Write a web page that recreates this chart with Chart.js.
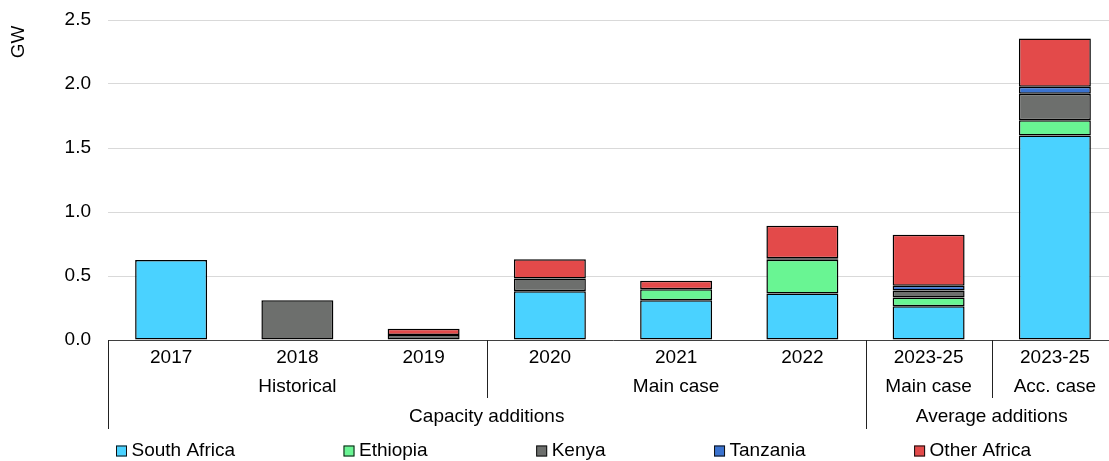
<!DOCTYPE html>
<html>
<head>
<meta charset="utf-8">
<script src="https://cdn.jsdelivr.net/npm/chart.js@4/dist/chart.umd.min.js"></script>
<style>
  body { margin: 0; background: #fff; }
  #wrap { width: 1109px; height: 461px; overflow: hidden; }
</style>
</head>
<body>
<div id="wrap"><canvas id="chart" width="1118" height="461" style="width:1118px;height:461px"></canvas></div>
<script>
// categories and axis groups
const years = ["2017", "2018", "2019", "2020", "2021", "2022", "2023-25", "2023-25"]
const periodGroups = ["Historical", "Main case", "Main case", "Acc. case"]
const periodSpans = [3, 3, 1, 1]
const additionGroups = ["Capacity additions", "Average additions"]
const additionSpans = [6, 2]

// GW per region
const southAfrica = [0.625, 0, 0, 0.38, 0.31, 0.363, 0.264, 1.598]
const ethiopia = [0, 0, 0, 0, 0.087, 0.264, 0.068, 0.119]
const kenya = [0, 0.31, 0.04, 0.10, 0, 0.012, 0.055, 0.206]
const tanzania = [0, 0, 0, 0, 0, 0, 0.036, 0.055]
const otherAfrica = [0, 0, 0.047, 0.15, 0.066, 0.253, 0.399, 0.377]

const yTicks = [0, 0.5, 1.0, 1.5, 2.0, 2.5]

const fontFamily = "'Liberation Sans', Arial, sans-serif"
Chart.defaults.font.family = fontFamily
Chart.defaults.font.size = 19
Chart.defaults.color = "#000"

function makeSet(label, data, color) {
  return {
    label: label,
    data: data,
    backgroundColor: color,
    borderColor: "#000",
    borderWidth: 1.5,
    borderSkipped: false,
    inflateAmount: 0,
    categoryPercentage: 1,
    barPercentage: 0.57
  }
}

// draws the grouped category rows, the GW title and the legend
const extras = {
  id: "extras",
  afterDraw(chart) {
    const ctx = chart.ctx
    const x = chart.scales.x
    const bottom = chart.chartArea.bottom
    const step = x.getPixelForValue(1) - x.getPixelForValue(0)
    const edge = (i) => x.getPixelForValue(0) - step / 2 + i * step

    let outer = [0]
    additionSpans.forEach((s) => outer.push(outer[outer.length - 1] + s))
    let inner = [0]
    periodSpans.forEach((s) => inner.push(inner[inner.length - 1] + s))

    ctx.save()
    ctx.strokeStyle = "#222"
    ctx.lineWidth = 1
    inner.forEach((b) => {
      const px = Math.round(edge(b)) + 0.5
      const end = outer.includes(b) ? 429 : 398
      ctx.beginPath()
      ctx.moveTo(px, bottom)
      ctx.lineTo(px, end)
      ctx.stroke()
    })

    ctx.fillStyle = "#000"
    ctx.font = "19px " + fontFamily
    ctx.textAlign = "center"
    ctx.textBaseline = "middle"
    periodGroups.forEach((g, i) => {
      ctx.fillText(g, (edge(inner[i]) + edge(inner[i + 1])) / 2, 387)
    })
    additionGroups.forEach((g, i) => {
      ctx.fillText(g, (edge(outer[i]) + edge(outer[i + 1])) / 2, 417)
    })

    // GW title
    ctx.save()
    ctx.translate(18.5, 42)
    ctx.rotate(-Math.PI / 2)
    ctx.fillText("GW", 0, 0)
    ctx.restore()

    // legend
    ctx.textAlign = "left"
    let lx = 116
    const ly = 451
    chart.data.datasets.forEach((ds) => {
      ctx.fillStyle = ds.backgroundColor
      ctx.fillRect(lx, ly - 5.5, 11, 11)
      ctx.strokeStyle = "#111"
      ctx.strokeRect(lx + 0.5, ly - 5, 10, 10)
      ctx.fillStyle = "#000"
      ctx.fillText(ds.label, lx + 15.5, ly)
      lx += 15.5 + ctx.measureText(ds.label).width + 108.5
    })
    ctx.restore()
  }
}

const chart = new Chart(document.querySelector("#chart"), {
  type: "bar",
  data: {
    labels: years,
    datasets: [
      makeSet("South Africa", southAfrica, "#4ad2ff"),
      makeSet("Ethiopia", ethiopia, "#69f593"),
      makeSet("Kenya", kenya, "#6d6f6d"),
      makeSet("Tanzania", tanzania, "#3b73cf"),
      makeSet("Other Africa", otherAfrica, "#e34a4a")
    ]
  },
  options: {
    responsive: false,
    animation: false,
    devicePixelRatio: 1,
    layout: {
      padding: { top: 20, left: 0, right: 0, bottom: 0 }
    },
    plugins: {
      legend: { display: false },
      tooltip: { enabled: false }
    },
    scales: {
      x: {
        stacked: true,
        grid: { display: false, drawTicks: false },
        border: { display: true, color: "#3f3f3f", width: 1 },
        ticks: { padding: 6, maxRotation: 0, autoSkip: false },
        afterFit: (scale) => {
          scale.height = 121
          scale.paddingLeft = 0
          scale.paddingRight = 0
        }
      },
      y: {
        stacked: true,
        min: 0,
        max: yTicks[yTicks.length - 1],
        afterBuildTicks: (scale) => { scale.ticks = yTicks.map((v) => ({ value: v })) },
        grid: { color: "#d9d9d9", drawTicks: false },
        border: { display: false },
        ticks: {
          padding: 17,
          callback: (value) => Number(value).toFixed(1)
        },
        afterFit: (scale) => {
          scale.width = 108
          scale.paddingTop = 0
          scale.paddingBottom = 0
        }
      }
    }
  },
  plugins: [extras]
})
</script>
</body>
</html>
